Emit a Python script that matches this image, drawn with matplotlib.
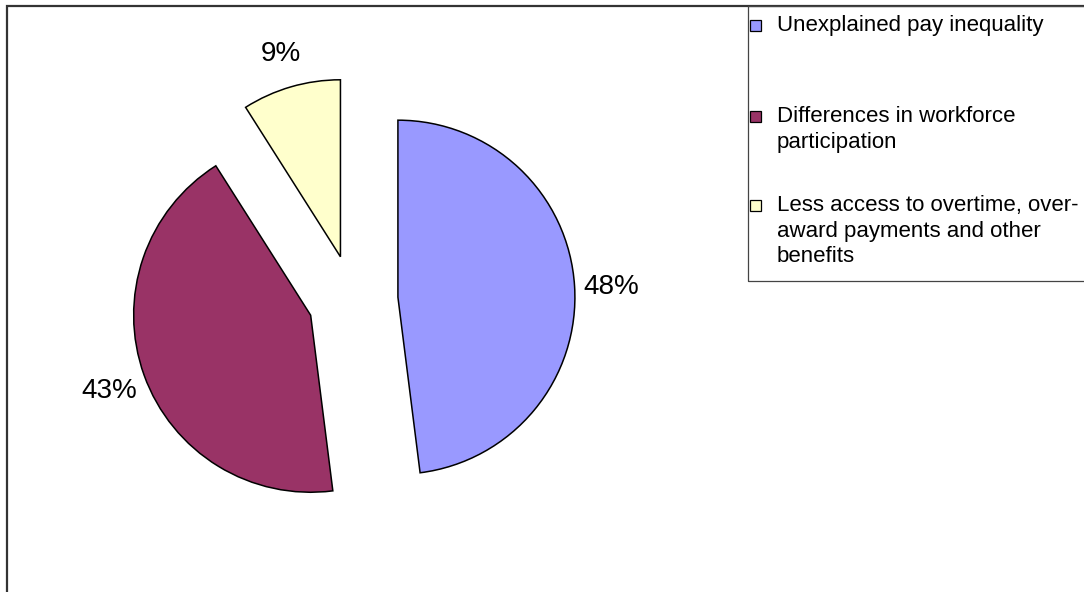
import matplotlib.pyplot as plt
from matplotlib.patches import Rectangle

# ----------------------------
# Data
# ----------------------------

labels = [
    "Unexplained pay inequality",
    "Differences in workforce\nparticipation",
    "Less access to overtime, over-\naward payments and other\nbenefits",
]
shares = [48, 43, 9]
colors = ["#9999FF", "#993366", "#FFFFCC"]

plt.rcParams["font.family"] = ["Liberation Sans", "DejaVu Sans"]

W, H = 1084, 592
fig = plt.figure(figsize=(W / 100, H / 100), dpi=100)
ax = fig.add_axes([0, 0, 1, 1])

# ----------------------------
# Pie (axes in pixel units, explode is absolute)
# ----------------------------

wedges, texts, pcts = ax.pie(
    shares,
    colors=colors,
    startangle=90,
    counterclock=False,
    explode=[45] * len(shares),
    radius=177,
    center=(353, H - 300),
    autopct=lambda p: f"{p:.0f}%",
    pctdistance=1.21,
    wedgeprops=dict(edgecolor="black", linewidth=1.1),
    textprops=dict(fontsize=20, color="black"),
    frame=True,
)
for t in pcts:
    t.set_va("center_baseline")

ax.set_xlim(0, W)
ax.set_ylim(0, H)
ax.set_aspect("equal")
ax.axis("off")

# outer frame (runs off the right and bottom edges)
ax.add_patch(Rectangle((7, -20), W + 20, H - 6 + 20, fill=False,
                       edgecolor="#333333", linewidth=1.6, clip_on=False))

# ----------------------------
# Legend
# ----------------------------

ax.add_patch(Rectangle((748, H - 281), 400, 281 - 6, fill=False,
                       edgecolor="#444444", linewidth=0.9, clip_on=False))

row_y = [25, 116, 205]
for lab, col, yc in zip(labels, colors, row_y):
    ax.add_patch(Rectangle((750, H - yc - 5.5), 11, 11, facecolor=col,
                           edgecolor="black", linewidth=0.9))
    ax.text(777, H - yc + 10, lab, fontsize=16, va="top", ha="left",
            linespacing=1.29)

fig.savefig("out.png", dpi=100)
